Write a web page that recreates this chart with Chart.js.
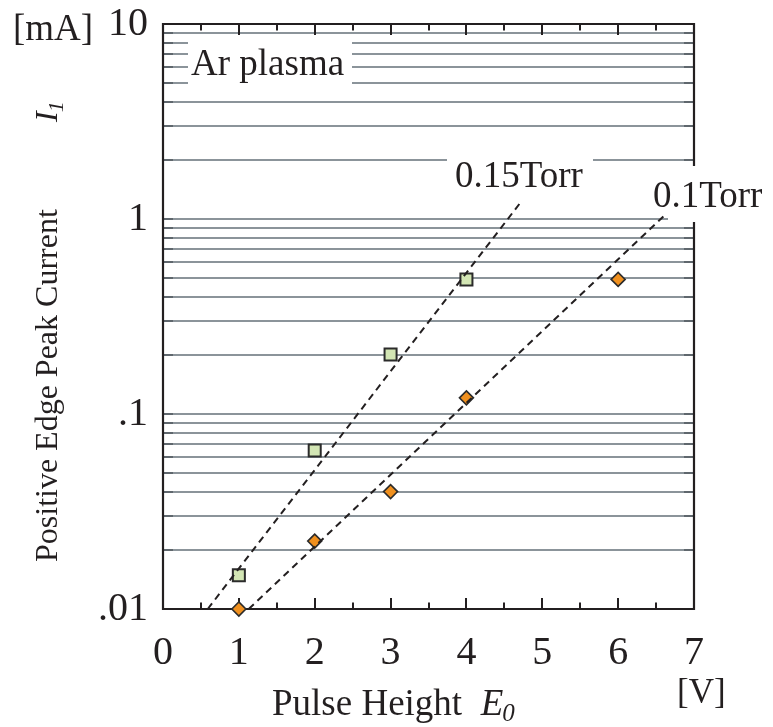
<!DOCTYPE html>
<html>
<head>
<meta charset="utf-8">
<script src="https://cdn.jsdelivr.net/npm/chart.js@4"></script>
<style>
  html, body { margin: 0; padding: 0; background: #fff; }
  canvas { display: block; }
</style>
</head>
<body>
<canvas id="chart" width="773" height="727"></canvas>
<script>
'use strict';

// tick labels
const xTicks = [0, 1, 2, 3, 4, 5, 6, 7];
const yDecades = [0.01, 0.1, 1, 10];
const yDecadeLabels = ['.01', '.1', '1', '10'];

// 0.15 Torr (squares)
const x015 = [1, 2, 3, 4];
const y015 = [0.0149, 0.065, 0.202, 0.49];

// 0.1 Torr (diamonds)
const x01 = [1, 2, 3, 4, 6];
const y01 = [0.01, 0.0223, 0.040, 0.121, 0.49];

// dashed fit lines (end points)
const fit015X = [0.59, 4.73];
const fit015Y = [0.01, 1.24];
const fit01X = [1.13, 6.64];
const fit01Y = [0.01, 1.07];

// log grid: 1..9 of each decade
const yGrid = [];
[0.01, 0.1, 1].forEach(d => { for (let k = 1; k < 10; k++) yGrid.push(+(d * k).toPrecision(3)); });
yGrid.push(10);

const toPts = (xs, ys) => xs.map((x, i) => ({ x: x, y: ys[i] }));

const SERIF = '"Liberation Serif", "DejaVu Serif", serif';
const INK = '#231f20';

const framePlugin = {
  id: 'frame',
  beforeDatasetsDraw(chart) {
    const ctx = chart.ctx;
    const a = chart.chartArea;
    const xs = chart.scales.x, ys = chart.scales.y;
    ctx.save();
    // inner ticks on y grid lines
    ctx.strokeStyle = '#5f676d';
    ctx.lineWidth = 2;
    yGrid.forEach(v => {
      const py = Math.round(ys.getPixelForValue(v));
      ctx.beginPath();
      ctx.moveTo(a.left, py); ctx.lineTo(a.left + 10, py);
      ctx.moveTo(a.right, py); ctx.lineTo(a.right - 10, py);
      ctx.stroke();
    });
    // frame
    ctx.strokeStyle = INK;
    ctx.lineWidth = 2.2;
    ctx.beginPath();
    ctx.rect(a.left, a.top, a.right - a.left, a.bottom - a.top);
    ctx.stroke();
    // x ticks top and bottom
    ctx.lineWidth = 2;
    for (let v = 0.5; v < 7; v += 0.5) {
      const px = Math.round(xs.getPixelForValue(v));
      const len = (v % 1 === 0) ? 11 : 6.5;
      ctx.beginPath();
      ctx.moveTo(px, a.bottom); ctx.lineTo(px, a.bottom - len);
      ctx.moveTo(px, a.top); ctx.lineTo(px, a.top + len);
      ctx.stroke();
    }
    // label boxes
    ctx.fillStyle = '#fff';
    ctx.fillRect(188, 36, 164, 56);
    ctx.fillRect(447, 150, 146, 50);
    ctx.fillRect(668, 166, 105, 56);

    ctx.fillStyle = INK;
    ctx.textBaseline = 'alphabetic';
    ctx.textAlign = 'left';
    ctx.font = '37px ' + SERIF;
    ctx.fillText('Ar plasma', 191, 75);
    ctx.fillText('0.15Torr', 455, 187);
    ctx.fillText('0.1Torr', 653, 207);

    // units
    ctx.font = '37px ' + SERIF;
    ctx.fillText('[mA]', 13, 40);
    ctx.font = '35px ' + SERIF;
    ctx.fillText('[V]', 677, 703);

    // x title
    ctx.font = '37px ' + SERIF;
    const xt = 'Pulse Height  ';
    ctx.fillText(xt, 272, 715);
    let w = ctx.measureText(xt).width;
    ctx.font = 'italic 37px ' + SERIF;
    ctx.fillText('E', 272 + w, 715);
    w += ctx.measureText('E').width;
    ctx.font = 'italic 25px ' + SERIF;
    ctx.fillText('0', 272 + w - 1, 721);

    // y title
    ctx.translate(57, 562);
    ctx.rotate(-Math.PI / 2);
    ctx.font = '32px ' + SERIF;
    ctx.fillText('Positive Edge Peak Current', 0, 0);
    ctx.font = 'italic 32px ' + SERIF;
    ctx.fillText('I', 440, 0);
    const wi = ctx.measureText('I').width;
    ctx.font = 'italic 22px ' + SERIF;
    ctx.fillText('1', 440 + wi - 1, 6);
    ctx.restore();
  }
};

new Chart(document.getElementById('chart'), {
  type: 'scatter',
  data: {
    datasets: [
      {
        label: '0.15Torr fit',
        data: toPts(fit015X, fit015Y),
        showLine: true,
        borderColor: INK,
        borderWidth: 2,
        borderDash: [7, 5],
        pointRadius: 0,
        clip: false
      },
      {
        label: '0.1Torr fit',
        data: toPts(fit01X, fit01Y),
        showLine: true,
        borderColor: INK,
        borderWidth: 2,
        borderDash: [7, 5],
        pointRadius: 0,
        clip: false
      },
      {
        label: '0.15Torr',
        data: toPts(x015, y015),
        pointStyle: 'rect',
        pointRadius: 8.5,
        backgroundColor: '#d3e6b4',
        borderColor: '#2b2b2b',
        borderWidth: 2,
        clip: false
      },
      {
        label: '0.1Torr',
        data: toPts(x01, y01),
        pointStyle: 'rectRot',
        pointRadius: 7,
        backgroundColor: '#f0901e',
        borderColor: '#2b2b2b',
        borderWidth: 1.6,
        clip: false
      }
    ]
  },
  options: {
    responsive: false,
    devicePixelRatio: 1,
    animation: false,
    events: [],
    layout: { padding: { top: 24, right: 79, left: 0, bottom: 0 } },
    plugins: { legend: { display: false }, tooltip: { enabled: false } },
    scales: {
      x: {
        type: 'linear',
        min: 0,
        max: 7,
        afterBuildTicks: s => { s.ticks = xTicks.map(v => ({ value: v })); },
        afterFit: s => { s.height = 118; s.paddingLeft = 0; s.paddingRight = 0; },
        grid: { display: false, drawTicks: false },
        border: { display: false },
        ticks: {
          padding: 20,
          color: INK,
          font: { family: SERIF, size: 40 },
          maxRotation: 0,
          autoSkip: false
        }
      },
      y: {
        type: 'logarithmic',
        min: 0.01,
        max: 10,
        afterBuildTicks: s => { s.ticks = yGrid.map(v => ({ value: v })); },
        afterFit: s => { s.width = 163; s.paddingTop = 0; s.paddingBottom = 0; },
        grid: { color: '#8b949a', lineWidth: 2, drawTicks: false },
        border: { display: false },
        ticks: {
          padding: 15,
          color: INK,
          autoSkip: false,
          font: { family: SERIF, size: 40 },
          callback: v => {
            const i = yDecades.findIndex(d => Math.abs(d - v) < d * 1e-6);
            return i >= 0 ? yDecadeLabels[i] : '';
          }
        }
      }
    }
  },
  plugins: [framePlugin]
});
</script>
</body>
</html>
